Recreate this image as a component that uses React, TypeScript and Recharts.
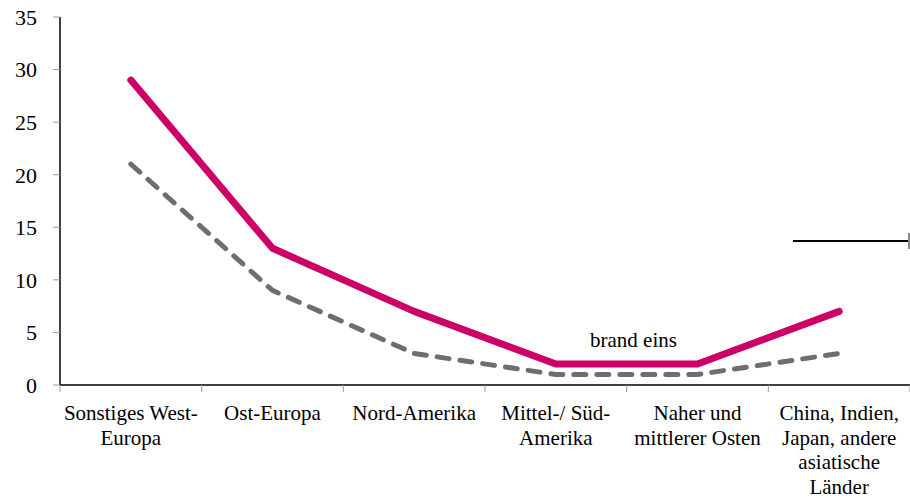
import { LineChart, Line, XAxis, YAxis } from "recharts";

const regions = [
  "Sonstiges West-\nEuropa",
  "Ost-Europa",
  "Nord-Amerika",
  "Mittel-/ Süd-\nAmerika",
  "Naher und\nmittlerer Osten",
  "China, Indien,\nJapan, andere\nasiatische\nLänder",
];
const brandEins = [29, 13, 7, 2, 2, 7];
const average = [21, 9, 3, 1, 1, 3];
const yTicks = [0, 5, 10, 15, 20, 25, 30, 35];
const edgeTicks = [0, 1, 2, 3, 4, 5, 6];

const data = regions.map((region, i) => ({
  region,
  slot: i + 0.5,
  brandEins: brandEins[i],
  average: average[i],
}));

const FONT = "'Liberation Serif', serif";

function RegionTick(props: any) {
  const { x, y, payload } = props;
  const lines = String(payload.value).split("\n");
  return (
    <text x={x} y={y} textAnchor="middle" style={{ fontFamily: FONT }} fontSize={21} fill="#000">
      {lines.map((line: string, i: number) => (
        <tspan key={i} x={x} dy={i === 0 ? 26 : 24.5}>
          {line}
        </tspan>
      ))}
    </text>
  );
}

export default function App() {
  return (
    <div
      style={{
        position: "absolute",
        left: 0,
        top: 0,
        width: 910,
        height: 498,
        background: "#fff",
        fontFamily: FONT,
      }}
    >
      <LineChart width={910} height={498} data={data} margin={{ top: 17, right: 0, bottom: 0, left: 0 }}>
        <XAxis
          xAxisId="b_labels"
          dataKey="region"
          scale="band"
          interval={0}
          height={112}
          axisLine={false}
          tickLine={false}
          tick={<RegionTick />}
        />
        <XAxis
          xAxisId="a_edges"
          dataKey="slot"
          type="number"
          domain={[0, 6]}
          ticks={edgeTicks}
          allowDataOverflow
          height={1}
          tick={() => <g />}
          tickSize={7}
          axisLine={{ stroke: "#000", strokeWidth: 1.5 }}
          tickLine={{ stroke: "#999" }}
        />
        <YAxis
          width={60}
          domain={[0, 35]}
          ticks={yTicks}
          interval={0}
          tickSize={7}
          tickMargin={16}
          axisLine={{ stroke: "#000", strokeWidth: 1.5 }}
          tickLine={{ stroke: "#999" }}
          tick={{ fontFamily: FONT, fontSize: 22, fill: "#000" }}
        />
        <Line
          xAxisId="a_edges"
          dataKey="average"
          stroke="transparent"
          dot={false}
          activeDot={false}
          legendType="none"
          isAnimationActive={false}
        />
        <Line
          xAxisId="b_labels"
          dataKey="average"
          stroke="#6e6e6e"
          strokeWidth={5}
          strokeDasharray="12 11"
          strokeLinecap="round"
          dot={false}
          activeDot={false}
          isAnimationActive={false}
        />
        <Line
          xAxisId="b_labels"
          dataKey="brandEins"
          stroke="#cc0066"
          strokeWidth={7}
          strokeLinecap="round"
          strokeLinejoin="round"
          dot={false}
          activeDot={false}
          isAnimationActive={false}
        />
      </LineChart>
      <div
        style={{
          position: "absolute",
          left: 590,
          top: 328,
          fontSize: 21,
          color: "#000",
          whiteSpace: "nowrap",
          lineHeight: "24px",
        }}
      >
        brand eins
      </div>
      <div style={{ position: "absolute", left: 793, top: 240, width: 116, height: 2, background: "#000" }} />
      <div style={{ position: "absolute", left: 908, top: 233, width: 1.5, height: 16, background: "#888" }} />
    </div>
  );
}
